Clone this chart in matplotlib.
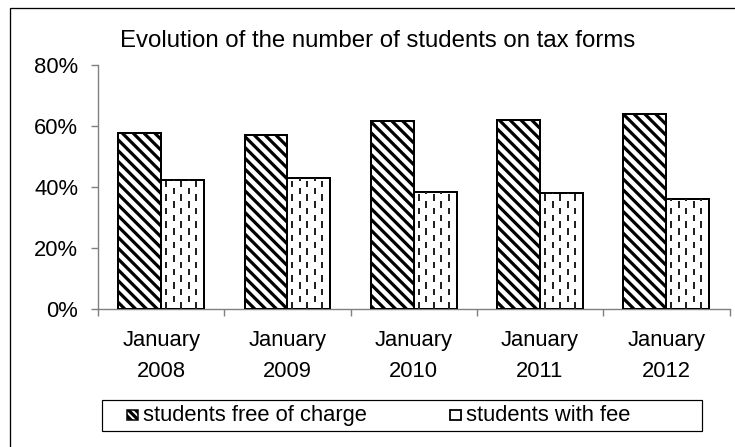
import matplotlib.pyplot as plt
from matplotlib.patches import Rectangle
from matplotlib.collections import LineCollection
import numpy as np

plt.rcParams['font.family'] = ['Liberation Sans', 'DejaVu Sans']

DPI = 130
W, H = 735, 447


def pt(px):
    # pixels -> points at this dpi
    return px * 72 / DPI


# data (percent)
years = ['2008', '2009', '2010', '2011', '2012']
free_of_charge = [57.7, 57.1, 61.5, 62.1, 64.0]
with_fee = [42.3, 42.9, 38.5, 37.9, 36.0]
y_ticks = [0, 20, 40, 60, 80]
title = 'Evolution of the number of students on tax forms'
series_names = ['students free of charge', 'students with fee']

FS = pt(22)
FS_TITLE = pt(24)
AXIS_GRAY = '#808080'

plt.rcParams['hatch.linewidth'] = pt(3.2)

fig = plt.figure(figsize=((W + 0.01) / DPI, (H + 0.01) / DPI), dpi=DPI)
ax = fig.add_axes([98 / W, 1 - 309 / H, (729.5 - 98) / W, (309 - 65) / H])

x = np.arange(len(years))
bw = 0.34
bars_free = ax.bar(x - bw / 2, free_of_charge, bw, color='white', edgecolor='black',
                   hatch='\\\\\\\\', linewidth=pt(2), zorder=3)
bars_fee = ax.bar(x + bw / 2, with_fee, bw, color='white', edgecolor='black',
                  linewidth=pt(2), zorder=3)

ax.set_xlim(-0.5, len(years) - 0.5)
ax.set_ylim(0, 80)

# dashed vertical fill for the "with fee" bars
px_x = (729.5 - 98) / len(years)   # pixels per x unit
px_y = (309 - 65) / 80              # pixels per percent
step, first = 7.5 / px_x, 5 / px_x
period, dash = 13.5 / px_y, 6.5 / px_y
for b in bars_fee:
    x0, w, h = b.get_x(), b.get_width(), b.get_height()
    segs = []
    k = 0
    xc = x0 + first
    while xc < x0 + w - 0.5 * first:
        y0 = (k % 2) * period / 2
        while y0 < h:
            segs.append([(xc, y0), (xc, min(y0 + dash, h))])
            y0 += period
        xc += step
        k += 1
    lc = LineCollection(segs, colors='#222222', linewidths=pt(2), zorder=4)
    lc.set_clip_path(b)
    ax.add_collection(lc)

# axes styling
for s in ['top', 'right']:
    ax.spines[s].set_visible(False)
for s in ['left', 'bottom']:
    ax.spines[s].set_color(AXIS_GRAY)
    ax.spines[s].set_linewidth(pt(1.4))

ax.set_yticks(y_ticks)
ax.set_yticklabels([f'{v}%' for v in y_ticks], fontsize=FS)
ax.tick_params(axis='y', direction='out', length=pt(7), width=pt(1.4),
               color=AXIS_GRAY, pad=pt(13))

ax.set_xticks(np.arange(len(years) + 1) - 0.5)
ax.set_xticklabels([])
ax.tick_params(axis='x', which='major', direction='out', length=pt(7),
               width=pt(1.4), color=AXIS_GRAY)
ax.set_xticks(x, [f'January\n{y}' for y in years], minor=True)
ax.tick_params(axis='x', which='minor', length=0, pad=pt(21), labelsize=FS)
for lab in ax.get_xticklabels(minor=True):
    lab.set_linespacing(1.65)

fig.text(378 / W, 1 - 47 / H, title, ha='center', va='baseline', fontsize=FS_TITLE)

# outer chart border (right and bottom fall outside the image)
fig.add_artist(Rectangle((10 / W, -0.5), 2, (H - 8) / H + 0.5, transform=fig.transFigure,
                         fill=False, edgecolor='black', linewidth=pt(1.3)))

# legend box
fig.add_artist(Rectangle((102 / W, 1 - 431 / H), (702 - 102) / W, (431 - 400) / H,
                         transform=fig.transFigure, fill=False, edgecolor='black',
                         linewidth=pt(1.2)))
ly = 1 - 415.5 / H
sw, sh = 11 / W, 10 / H
fig.add_artist(Rectangle((127 / W, ly - sh / 2), sw, sh, transform=fig.transFigure,
                         facecolor='white', edgecolor='black', hatch='\\\\\\\\\\\\',
                         linewidth=pt(1.5)))
fig.add_artist(Rectangle((450 / W, ly - sh / 2), sw, sh, transform=fig.transFigure,
                         facecolor='white', edgecolor='black', linewidth=pt(1.8)))
fig.text(143 / W, ly, series_names[0], ha='left', va='center', fontsize=FS)
fig.text(466 / W, ly, series_names[1], ha='left', va='center', fontsize=FS)

fig.savefig('out.png', dpi=DPI)
